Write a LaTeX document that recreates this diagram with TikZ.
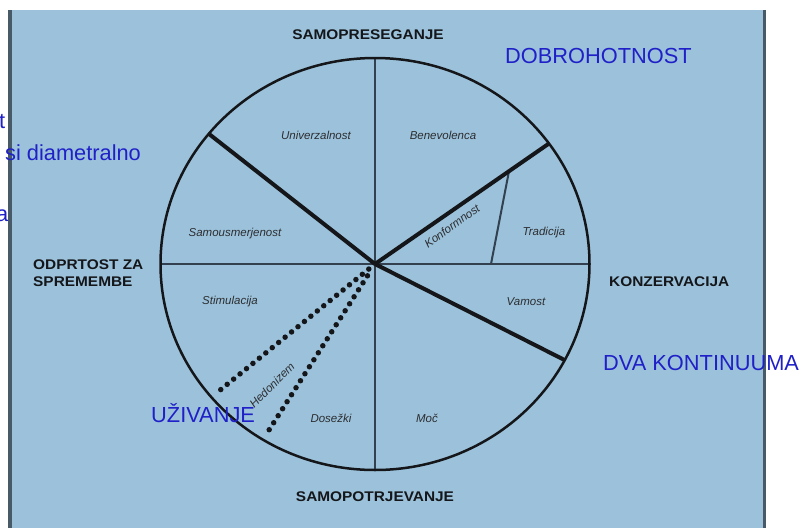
\documentclass[tikz,border=0pt]{standalone}
\usepackage{fontspec}
\setmainfont{Liberation Sans}
\definecolor{panelcol}{RGB}{155,194,218}
\definecolor{edgecol}{RGB}{72,90,104}
\definecolor{lblcol}{RGB}{32,32,200}
\definecolor{segcol}{RGB}{50,64,80}
\definecolor{inkcol}{RGB}{20,22,26}
\begin{document}
\begin{tikzpicture}[x=1pt,y=-1pt,
  segline/.style={draw=segcol, line width=2pt},
  boldline/.style={draw=inkcol, line width=4pt},
  dotline/.style={draw=inkcol, line width=5.5pt, line cap=round, dash pattern=on 0pt off 8.3pt},
  vallbl/.style={font=\fontsize{11.5}{12}\selectfont\itshape, text=inkcol!90, inner sep=0pt},
  axislbl/.style={font=\fontsize{14}{17}\selectfont\bfseries, text=inkcol, xscale=1.1, inner sep=0pt},
  bluetxt/.style={font=\fontsize{21.8}{24}\selectfont, text=lblcol, inner sep=0pt, anchor=base west}]
\useasboundingbox (0,0) rectangle (806,528);
\clip (0,0) rectangle (806,528);
\fill[white] (0,0) rectangle (806,528);
\fill[panelcol] (8,10) rectangle (766,528);
\fill[edgecol] (8,10) rectangle (11.5,528);
\fill[edgecol] (762.5,10) rectangle (766,528);

% geometry
\coordinate (c) at (375,264);
\coordinate (top) at (375,58);
\coordinate (bot) at (375,470);
\coordinate (lft) at (160.5,264);
\coordinate (rgt) at (589.5,264);
\coordinate (ul) at (208.8,133.8);
\coordinate (ur) at (549.0,143.5);
\coordinate (lr) at (564.7,360.1);
\coordinate (d1) at (211.4,397.2);
\coordinate (d2) at (262.9,439.6);
\coordinate (dv1) at (491,264);
\coordinate (dv2) at (509,171.2);

\draw[segline] (top) -- (bot);
\draw[segline] (lft) -- (rgt);
\draw[segline] (dv1) -- (dv2);
\draw[inkcol, line width=2.5pt] (c) ellipse [x radius=214.5pt, y radius=206pt];
\draw[boldline] (ul) -- (c);
\draw[boldline] (c) -- (ur);
\draw[boldline] (c) -- (lr);
\draw[dotline, shorten <=8pt, shorten >=4pt] (c) -- (d1);
\draw[dotline, shorten <=14pt, shorten >=4pt] (c) -- (d2);

% value labels
\node[vallbl] (univ) at (316,135) {Univerzalnost};
\node[vallbl] (bene) at (443,135) {Benevolenca};
\node[vallbl] (samo) at (235,234) {Samousmerjenost};
\node[vallbl, rotate=36] (konf) at (452,226) {Konformnost};
\node[vallbl] (trad) at (544,233) {Tradicija};
\node[vallbl] (stim) at (230,302) {Stimulacija};
\node[vallbl, rotate=45] (hedo) at (272,385) {Hedonizem};
\node[vallbl] (dose) at (331,418) {Dosežki};
\node[vallbl] (moc) at (427,418) {Moč};
\node[vallbl] (vamo) at (526,302) {Vamost};

% axis labels
\node[axislbl] (ltop) at (368,35) {SAMOPRESEGANJE};
\node[axislbl] (lbot) at (375,497) {SAMOPOTRJEVANJE};
\node[axislbl, anchor=west] (lrgt) at (609,282) {KONZERVACIJA};
\node[axislbl, anchor=north west, align=left] (llft) at (33,260) {ODPRTOST ZA\\SPREMEMBE};

% blue annotations
\node[bluetxt] (dobro) at (505,63) {DOBROHOTNOST};
\node[bluetxt] (dva) at (603,370) {DVA KONTINUUMA};
\node[bluetxt] (uziv) at (151,422) {UŽIVANJE};
\node[bluetxt] (diam) at (5,160) {si diametralno};
\node[bluetxt, anchor=base east] (tcut) at (5.5,128) {t};
\node[bluetxt, anchor=base east] (acut) at (8.5,221) {a};
\end{tikzpicture}
\end{document}
